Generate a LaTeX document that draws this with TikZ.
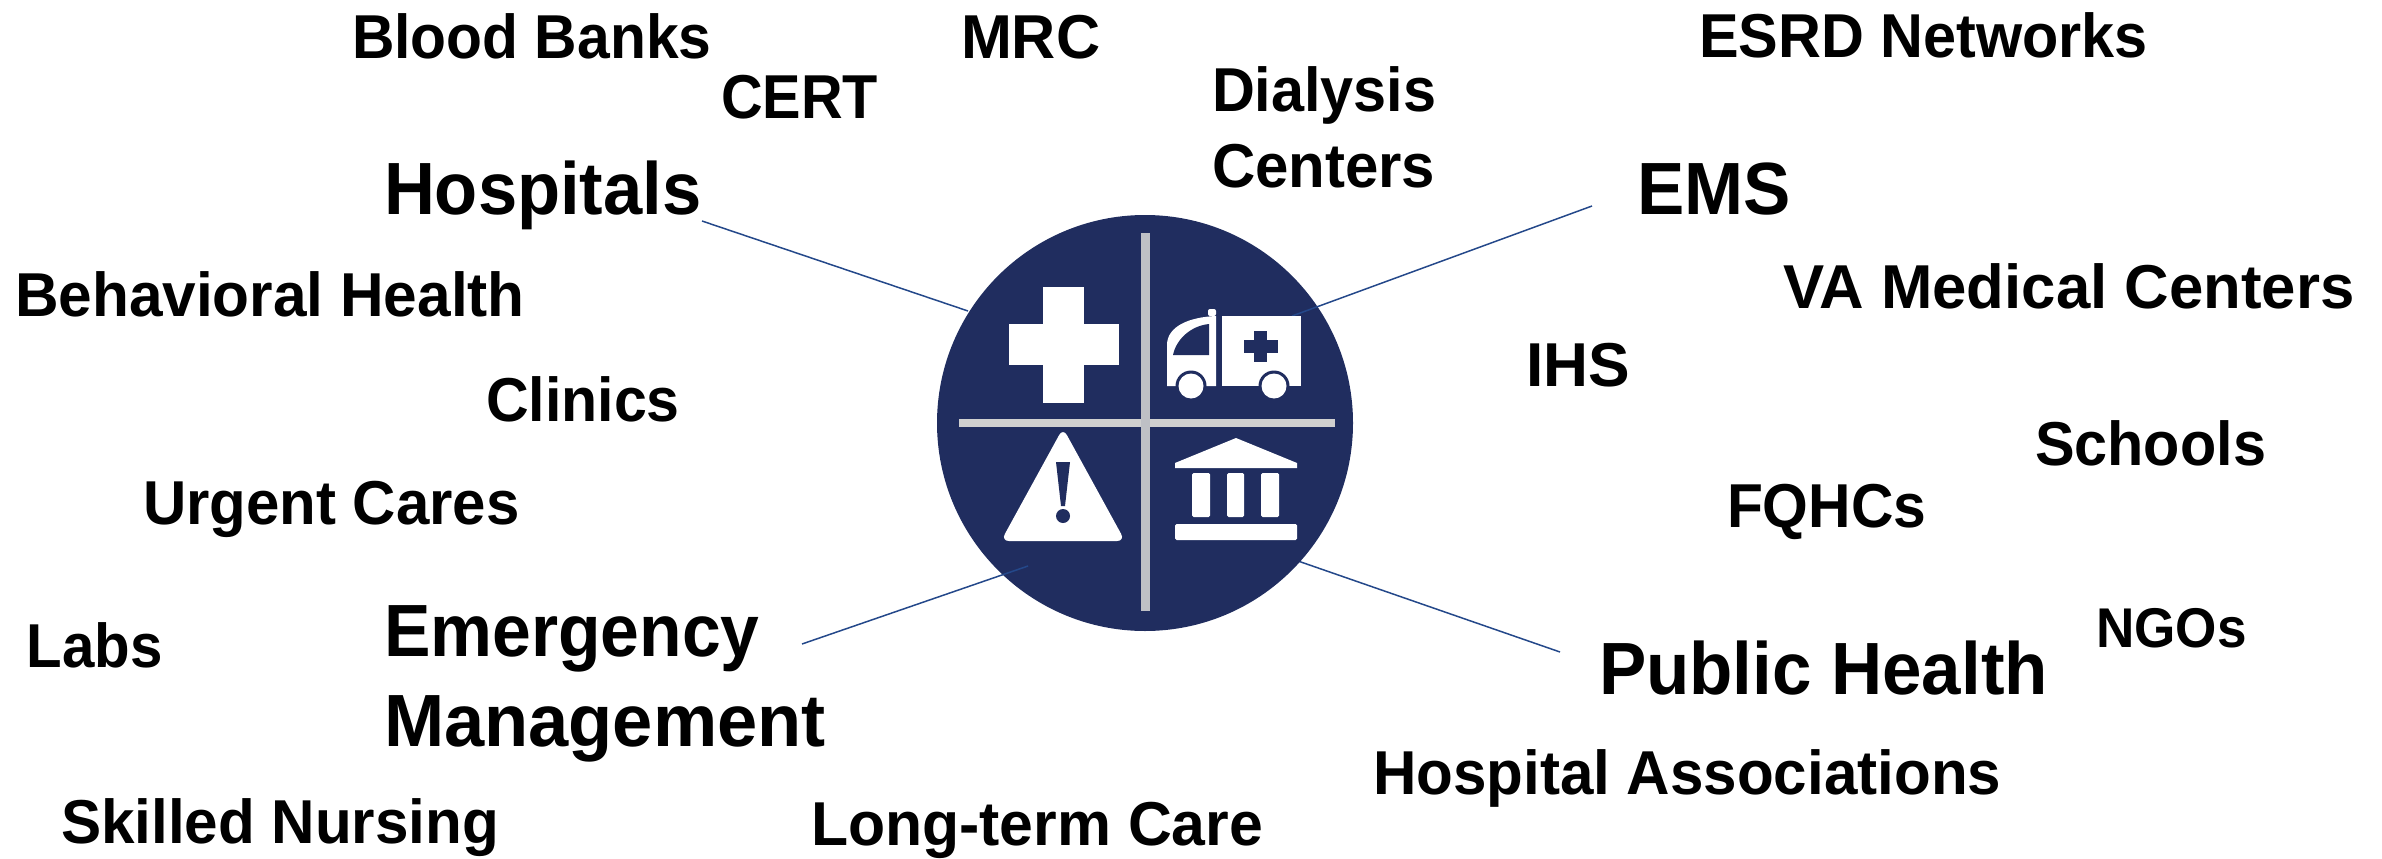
\documentclass[tikz,border=0pt]{standalone}
\usepackage{graphicx}
\usepackage{fontspec}
\setmainfont{Liberation Sans}[FakeStretch=0.93]
\definecolor{navy}{HTML}{202D5F}
\definecolor{leader}{HTML}{24488A}
\definecolor{divider}{HTML}{D0D0D0}
\newcommand{\hfit}[2]{\scalebox{#1}[1]{#2}}
\tikzset{
 lab/.style={anchor=base west,inner sep=0pt,outer sep=0pt,font=\bfseries\fontsize{#1}{#1}\selectfont,text=black},
 leaderline/.style={draw=leader,line width=1.5pt},
 icon/.style={fill=white,draw=none},
}
\begin{document}
\begin{tikzpicture}[x=1pt,y=-1pt]
\useasboundingbox (0,0) rectangle (2382,859);
% labels
\node[lab=62] (bb) at (352,59) {\hfit{1.02}{Blood Banks}};
\node[lab=62] (cert) at (721,118) {CERT};
\node[lab=62] (mrc) at (961,59) {\hfit{1.06}{MRC}};
\node[lab=62] (dia) at (1212,111) {\hfit{1.03}{Dialysis}};
\node[lab=62] (cen) at (1212,187) {\hfit{1.04}{Centers}};
\node[lab=62] (esrd) at (1699,58) {\hfit{1.03}{ESRD Networks}};
\node[lab=74] (hosp) at (384,214) {\hfit{1.025}{Hospitals}};
\node[lab=74] (ems) at (1637,214) {\hfit{1.03}{EMS}};
\node[lab=62] (bh) at (15,316) {\hfit{1.047}{Behavioral Health}};
\node[lab=62] (va) at (1783,308) {\hfit{1.07}{VA Medical Centers}};
\node[lab=62] (ihs) at (1526,386) {\hfit{1.08}{IHS}};
\node[lab=62] (cl) at (486,421) {\hfit{1.025}{Clinics}};
\node[lab=62] (sch) at (2035,465) {\hfit{1.03}{Schools}};
\node[lab=62] (uc) at (143,524) {\hfit{1.04}{Urgent Cares}};
\node[lab=62] (fq) at (1727,527) {\hfit{1.02}{FQHCs}};
\node[lab=56] (ngo) at (2096,647) {\hfit{1.02}{NGOs}};
\node[lab=62] (labs) at (27,667) {\hfit{1.01}{Labs}};
\node[lab=74] (em1) at (384,656) {\hfit{1.012}{Emergency}};
\node[lab=74] (em2) at (384,746) {\hfit{1.05}{Management}};
\node[lab=74] (ph) at (1599,694) {\hfit{1.03}{Public Health}};
\node[lab=62] (ha) at (1373,794) {\hfit{1.043}{Hospital Associations}};
\node[lab=62] (sn) at (61,843) {\hfit{1.044}{Skilled Nursing}};
\node[lab=62] (lt) at (811,845) {\hfit{1.053}{Long-term Care}};
% connector ends
\coordinate (hA) at (702,221);
\coordinate (hB) at (968,311);
\coordinate (eA) at (1592,206);
\coordinate (eB) at (1292,316);
\coordinate (mA) at (802,644);
\coordinate (mB) at (1028,566);
\coordinate (pA) at (1560,652);
\coordinate (pB) at (1298,561);
\draw[leaderline] (hA) -- (hB);
\draw[leaderline] (pA) -- (pB);
% disc
\node[circle,fill=navy,minimum size=416pt,inner sep=0pt] (disc) at (1145,423) {};
\draw[leaderline] (eA) -- (eB);
\draw[leaderline] (mA) -- (mB);
% dividers
\fill[divider] (959,419) rectangle (1335,427);
\fill[divider!90!navy] (1141,233) rectangle (1150,611);
% medical cross
\fill[icon] (1043,287) rectangle (1084,403);
\fill[icon] (1009,324) rectangle (1119,365);
% ambulance
\fill[icon,rounded corners=2pt] (1208,309) rectangle (1216,316);
\fill[icon] (1167,386) -- (1167,345) .. controls (1167,326) and (1190,317) .. (1216,316) -- (1216,386) -- cycle;
\fill[icon] (1222,316) rectangle (1301,386);
\fill[navy] (1173,355) .. controls (1176,340) and (1190,326) .. (1209,324) -- (1209,355) -- cycle;
\fill[navy] (1254,331) rectangle (1267,362);
\fill[navy] (1244,340) rectangle (1278,353);
\fill[navy] (1191,386) circle (15.5pt);
\fill[navy] (1274,386) circle (15.5pt);
\fill[icon] (1191,386) circle (12.5pt);
\fill[icon] (1274,386) circle (12.5pt);
% warning triangle
\fill[icon,rounded corners=8pt] (1063,428) -- (1125,541) -- (1001,541) -- cycle;
\fill[navy] (1056,462) -- (1070,462) -- (1065,506) -- (1061,506) -- cycle;
\fill[navy] (1063,516) circle (7pt);
% building
\fill[icon] (1175,463) -- (1236,438) -- (1297,463) -- (1297,468) -- (1175,468) -- cycle;
\fill[icon,rounded corners=1.5pt] (1192,473) rectangle (1210,517);
\fill[icon,rounded corners=1.5pt] (1227,473) rectangle (1244,517);
\fill[icon,rounded corners=1.5pt] (1261,473) rectangle (1279,517);
\fill[icon,rounded corners=1.5pt] (1175,524) rectangle (1297,540);
\end{tikzpicture}
\end{document}
